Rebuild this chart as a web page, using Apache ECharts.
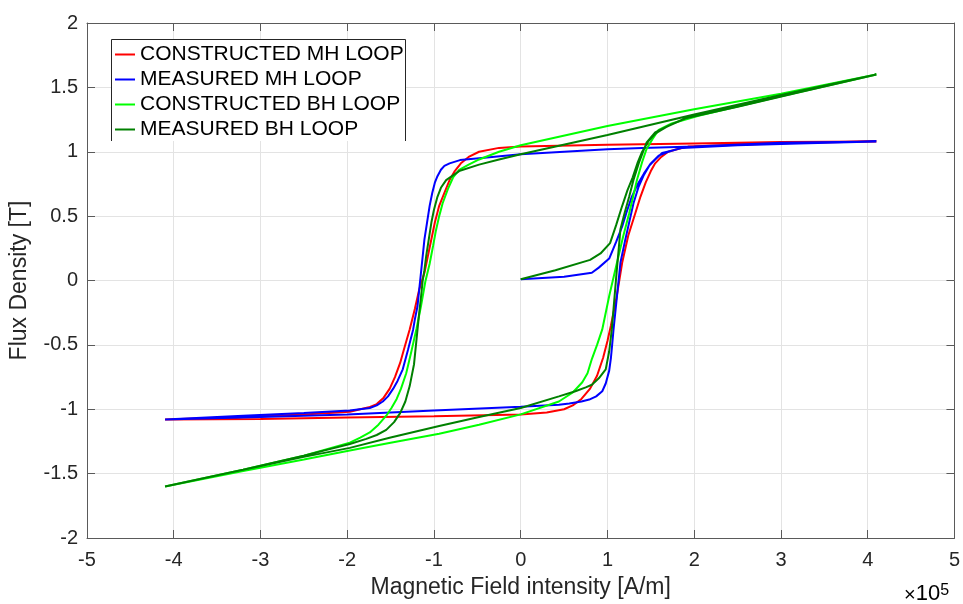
<!DOCTYPE html>
<html>
<head>
<meta charset="utf-8">
<script src="https://cdn.jsdelivr.net/npm/echarts@6/dist/echarts.min.js"></script>
<style>
  html, body { margin: 0; padding: 0; background: #fff; }
  #chart { width: 963px; height: 604px; }
</style>
</head>
<body>
<div id="chart"></div>
<script>
// H is in units of 1e5 A/m (axis shows "x10^5"), B in T

const seriesNames = ['CONSTRUCTED MH LOOP', 'MEASURED MH LOOP', 'CONSTRUCTED BH LOOP', 'MEASURED BH LOOP'];
const xTicks = [-5, -4, -3, -2, -1, 0, 1, 2, 3, 4, 5];
const yTicks = [-2, -1.5, -1, -0.5, 0, 0.5, 1, 1.5, 2];

// constructed MH: descending branch then ascending branch
const constructedMH = [
  [4.1, 1.08], [3.0, 1.075], [2.0, 1.065], [1.0, 1.055], [0, 1.04], [-0.25, 1.03], [-0.48, 1.0],
  [-0.6, 0.96], [-0.69, 0.91], [-0.76, 0.85], [-0.82, 0.78], [-0.88, 0.68], [-0.94, 0.58],
  [-0.99, 0.45], [-1.03, 0.32], [-1.07, 0.19], [-1.11, 0.06], [-1.17, -0.07], [-1.22, -0.22],
  [-1.28, -0.38], [-1.34, -0.52], [-1.39, -0.64], [-1.45, -0.75], [-1.51, -0.84], [-1.58, -0.91],
  [-1.66, -0.96], [-1.75, -0.985], [-1.85, -1.0], [-1.97, -1.02], [-2.5, -1.04], [-3.2, -1.06],
  [-4.1, -1.08],
  [-3.0, -1.075], [-2.0, -1.065], [-1.0, -1.055], [0, -1.04], [0.3, -1.025], [0.5, -1.0],
  [0.6, -0.97], [0.7, -0.92], [0.8, -0.84], [0.88, -0.74], [0.95, -0.6], [1.0, -0.47],
  [1.04, -0.35], [1.1, -0.15], [1.17, 0.14], [1.24, 0.35], [1.32, 0.52], [1.38, 0.65],
  [1.44, 0.76], [1.5, 0.85], [1.55, 0.91], [1.62, 0.96], [1.7, 1.0], [1.8, 1.02], [1.93, 1.04],
  [2.5, 1.055], [3.2, 1.07], [4.1, 1.08]
];

// measured MH: initial curve, descending, ascending
const measuredMH = [
  [0, 0.01], [0.5, 0.03], [0.82, 0.06], [0.9, 0.1], [1.02, 0.17], [1.1, 0.3], [1.17, 0.42],
  [1.22, 0.53], [1.28, 0.65], [1.35, 0.75], [1.42, 0.83], [1.5, 0.91], [1.59, 0.97], [1.7, 1.0],
  [1.86, 1.03], [2.5, 1.05], [3.2, 1.065], [4.1, 1.08],
  [3.0, 1.07], [2.0, 1.04], [1.4, 1.03], [1.0, 1.02], [0.5, 1.0], [0, 0.98], [-0.48, 0.95],
  [-0.7, 0.935], [-0.82, 0.91], [-0.88, 0.89], [-0.92, 0.86], [-0.96, 0.81], [-0.99, 0.76],
  [-1.02, 0.68], [-1.05, 0.58], [-1.08, 0.45], [-1.11, 0.32], [-1.13, 0.19], [-1.15, 0.06],
  [-1.17, -0.07], [-1.19, -0.2], [-1.22, -0.3], [-1.24, -0.38], [-1.3, -0.54], [-1.36, -0.69],
  [-1.42, -0.78], [-1.47, -0.84], [-1.53, -0.9], [-1.59, -0.94], [-1.66, -0.97], [-1.74, -0.99],
  [-1.97, -1.01], [-2.5, -1.03], [-3.2, -1.05], [-4.1, -1.08],
  [-3.0, -1.06], [-2.0, -1.04], [-1.0, -1.01], [0, -0.98], [0.44, -0.965], [0.56, -0.955],
  [0.7, -0.94], [0.79, -0.925], [0.87, -0.9], [0.94, -0.86], [0.98, -0.8], [1.02, -0.7],
  [1.04, -0.6], [1.05, -0.53], [1.07, -0.38], [1.11, -0.12], [1.15, 0.14], [1.2, 0.3],
  [1.25, 0.45], [1.3, 0.6], [1.36, 0.73], [1.42, 0.82], [1.48, 0.89], [1.55, 0.94], [1.63, 0.99],
  [1.75, 1.01], [1.86, 1.03], [2.5, 1.05], [3.2, 1.065], [4.1, 1.08]
];

// constructed BH: descending then ascending
const constructedBH = [
  [4.1, 1.6], [3.0, 1.45], [2.0, 1.33], [1.0, 1.2], [0, 1.05], [-0.25, 1.0], [-0.48, 0.94],
  [-0.6, 0.9], [-0.71, 0.86], [-0.78, 0.8], [-0.84, 0.71], [-0.9, 0.6], [-0.94, 0.5],
  [-0.98, 0.38], [-1.01, 0.27], [-1.05, 0.13], [-1.1, -0.01], [-1.15, -0.2], [-1.2, -0.37],
  [-1.26, -0.55], [-1.32, -0.72], [-1.38, -0.84], [-1.43, -0.92], [-1.49, -0.99], [-1.55, -1.05],
  [-1.64, -1.12], [-1.74, -1.18], [-1.85, -1.22], [-1.97, -1.26], [-2.5, -1.36], [-3.2, -1.47],
  [-4.1, -1.6],
  [-3.2, -1.48], [-2.5, -1.39], [-1.97, -1.32], [-1.5, -1.26], [-0.94, -1.19], [-0.48, -1.12],
  [0, -1.04], [0.44, -0.94], [0.6, -0.87], [0.71, -0.79], [0.77, -0.72], [0.82, -0.61],
  [0.88, -0.5], [0.94, -0.38], [1.02, -0.12], [1.11, 0.14], [1.18, 0.34], [1.25, 0.52],
  [1.34, 0.78], [1.4, 0.92], [1.45, 1.02], [1.52, 1.1], [1.59, 1.17], [1.74, 1.22], [2.05, 1.28],
  [3.0, 1.43], [4.1, 1.6]
];

// measured BH: initial curve, descending, ascending
const measuredBH = [
  [0, 0.01], [0.4, 0.08], [0.8, 0.16], [0.92, 0.21], [1.03, 0.29], [1.1, 0.43], [1.17, 0.58],
  [1.23, 0.7], [1.29, 0.8], [1.35, 0.92], [1.4, 1.0], [1.47, 1.08], [1.55, 1.14], [1.7, 1.2],
  [1.9, 1.26], [2.5, 1.35], [3.2, 1.46], [4.1, 1.6],
  [3.0, 1.44], [2.0, 1.29], [1.0, 1.13], [0, 0.98], [-0.25, 0.94], [-0.48, 0.9], [-0.71, 0.85],
  [-0.86, 0.78], [-0.92, 0.72], [-0.96, 0.65], [-1.0, 0.55], [-1.03, 0.45], [-1.06, 0.32],
  [-1.09, 0.19], [-1.11, 0.08], [-1.13, 0.0], [-1.15, -0.13], [-1.17, -0.25], [-1.2, -0.45],
  [-1.23, -0.65], [-1.28, -0.82], [-1.33, -0.94], [-1.39, -1.03], [-1.46, -1.1], [-1.55, -1.16],
  [-1.66, -1.2], [-1.78, -1.23], [-1.97, -1.27], [-2.5, -1.36], [-3.2, -1.47], [-4.1, -1.6],
  [-3.2, -1.47], [-2.5, -1.37], [-1.97, -1.3], [-1.5, -1.22], [-0.94, -1.13], [-0.48, -1.06],
  [0, -0.99], [0.44, -0.9], [0.63, -0.86], [0.75, -0.83], [0.82, -0.81], [0.9, -0.76],
  [0.98, -0.69], [1.02, -0.55], [1.05, -0.38], [1.1, 0.02], [1.15, 0.4], [1.2, 0.53],
  [1.25, 0.65], [1.3, 0.78], [1.36, 0.91], [1.45, 1.07], [1.55, 1.15], [1.7, 1.2], [1.9, 1.26],
  [2.5, 1.35], [3.2, 1.46], [4.1, 1.6]
];

const seriesData = [constructedMH, measuredMH, constructedBH, measuredBH];
const seriesColors = ['#ff0000', '#0000ff', '#00ff00', '#008000'];

const FONT = 'Liberation Sans, Arial, sans-serif';
const TEXT = '#262626';
const AXIS = '#5a5a5a';

const chart = echarts.init(document.getElementById('chart'));

const axisCommon = {
  type: 'value',
  axisLine: { show: true, onZero: false, lineStyle: { color: AXIS, width: 1 } },
  axisTick: { show: true, inside: true, length: 8, lineStyle: { color: AXIS } },
};

const option = {
  animation: false,
  backgroundColor: '#fff',
  grid: { left: 86, right: 6, top: 23, bottom: 65, containLabel: false },
  legend: {
    orient: 'vertical',
    left: 115,
    top: 42,
    padding: 0,
    icon: 'rect',
    itemWidth: 20,
    itemHeight: 2,
    itemGap: 0,
    z: 5,
    textStyle: { fontFamily: FONT, fontSize: 21, color: '#000', lineHeight: 25 },
    data: seriesNames,
  },
  xAxis: [
    Object.assign({}, axisCommon, {
      position: 'bottom',
      min: xTicks[0],
      max: xTicks[xTicks.length - 1],
      interval: 1,
      name: 'Magnetic Field intensity [A/m]',
      nameLocation: 'middle',
      nameGap: 38,
      nameTextStyle: { fontFamily: FONT, fontSize: 23, color: TEXT },
      axisLabel: { fontFamily: FONT, fontSize: 20, color: TEXT, margin: 12, showMinLabel: true, showMaxLabel: true },
      splitLine: { show: true, lineStyle: { color: '#e3e3e3', width: 1 } },
    }),
    Object.assign({}, axisCommon, {
      position: 'top',
      min: xTicks[0],
      max: xTicks[xTicks.length - 1],
      interval: 1,
      axisLabel: { show: false },
      splitLine: { show: false },
    }),
  ],
  yAxis: [
    Object.assign({}, axisCommon, {
      position: 'left',
      min: yTicks[0],
      max: yTicks[yTicks.length - 1],
      interval: 0.5,
      name: 'Flux Density [T]',
      nameLocation: 'middle',
      nameRotate: 90,
      nameGap: 56,
      nameTextStyle: { fontFamily: FONT, fontSize: 23, color: TEXT },
      axisLabel: { fontFamily: FONT, fontSize: 20, color: TEXT, margin: 9, showMinLabel: true, showMaxLabel: true },
      splitLine: { show: true, lineStyle: { color: '#e3e3e3', width: 1 } },
    }),
    Object.assign({}, axisCommon, {
      position: 'right',
      min: yTicks[0],
      max: yTicks[yTicks.length - 1],
      interval: 0.5,
      axisLabel: { show: false },
      splitLine: { show: false },
    }),
  ],
  graphic: [
    {
      type: 'rect',
      z: 3,
      shape: { x: 111, y: 39, width: 295, height: 102 },
      style: { fill: '#fff', stroke: null },
    },
    {
      type: 'polyline',
      z: 3,
      shape: { points: [[111.5, 141], [111.5, 39.5], [405.5, 39.5], [405.5, 141]] },
      style: { fill: null, stroke: '#262626', lineWidth: 1 },
    },
    {
      type: 'text',
      left: 904,
      top: 583,
      style: {
        text: '{a|×}{b|10}{c|5}',
        rich: {
          a: { fontFamily: FONT, fontSize: 20, color: TEXT, verticalAlign: 'bottom' },
          b: { fontFamily: FONT, fontSize: 22, color: TEXT, verticalAlign: 'bottom' },
          c: { fontFamily: FONT, fontSize: 16, color: TEXT, verticalAlign: 'top' },
        },
      },
    },
  ],
  series: seriesData.map((data, i) => ({
    name: seriesNames[i],
    type: 'line',
    data: data,
    symbol: 'none',
    smooth: false,
    z: 2 + i,
    color: seriesColors[i],
    lineStyle: { color: seriesColors[i], width: 2 },
  })),
};

chart.setOption(option);
</script>
</body>
</html>
